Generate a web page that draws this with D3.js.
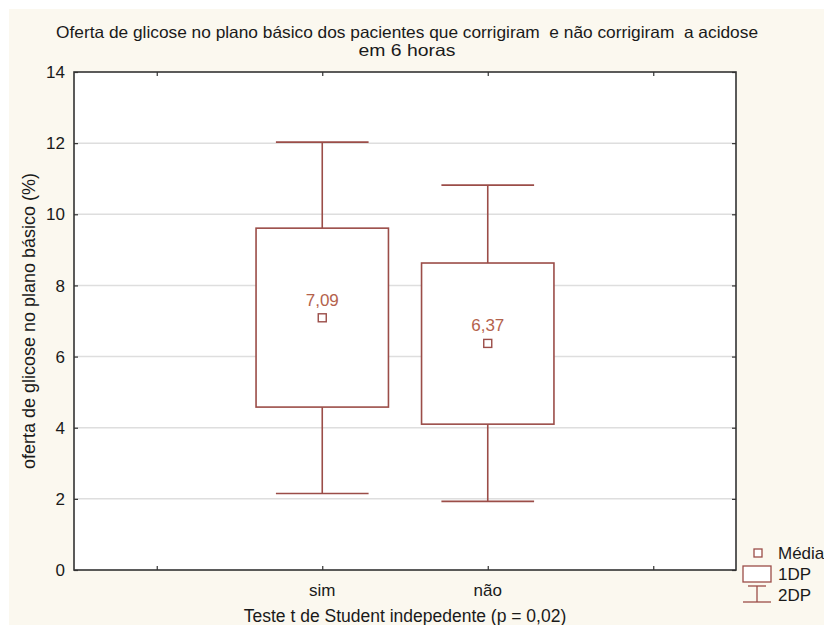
<!DOCTYPE html>
<html>
<head>
<meta charset="utf-8">
<script src="https://cdn.jsdelivr.net/npm/d3@7"></script>
<style>
  html, body { margin: 0; padding: 0; background: #ffffff; }
  svg text { font-family: "Liberation Sans", Arial, sans-serif; white-space: pre; }
</style>
</head>
<body>
<svg id="chart" width="824" height="625"></svg>
<script>
// ---- data ----
const categories = ["sim", "não"];
const axisSlots = ["", "sim", "não", " "];
const means = [7.09, 6.37];
const meanLabels = ["7,09", "6,37"];
const sd1Low = [4.58, 4.10];
const sd1High = [9.61, 8.63];
const sd2Low = [2.15, 1.93];
const sd2High = [12.03, 10.82];
const yTicks = [0, 2, 4, 6, 8, 10, 12, 14];
const titleLines = [
  "Oferta de glicose no plano básico dos pacientes que corrigiram  e não corrigiram  a acidose",
  "em 6 horas"
];
const xTitle = "Teste t de Student indepedente (p = 0,02)";
const yTitle = "oferta de glicose no plano básico (%)";
const legendLabels = ["Média", "1DP", "2DP"];

// ---- layout ----
const W = 824, H = 625;
const plot = { left: 74, right: 736, top: 72, bottom: 570 };
const boxColor = "#9b4d48";
const labelColor = "#b4624c";
const frameColor = "#333333";
const textColor = "#1a1a1a";

const svg = d3.select("#chart");
svg.append("rect").attr("x", 0).attr("y", 0).attr("width", W).attr("height", H).attr("fill", "#ffffff");
svg.append("rect").attr("x", 9).attr("y", 9).attr("width", W - 9).attr("height", H - 9).attr("fill", "#fbf8ef");

const x = d3.scalePoint().domain(axisSlots).range([plot.left, plot.right]).padding(0.5);
const y = d3.scaleLinear().domain([0, 14]).range([plot.bottom, plot.top]);
const step = x.step();

// plot background
svg.append("rect")
  .attr("x", plot.left).attr("y", plot.top)
  .attr("width", plot.right - plot.left).attr("height", plot.bottom - plot.top)
  .attr("fill", "#ffffff");

// gridlines
svg.append("g").selectAll("line")
  .data(yTicks.filter(d => d > 0 && d < 14))
  .join("line")
  .attr("x1", plot.left).attr("x2", plot.right)
  .attr("y1", d => y(d)).attr("y2", d => y(d))
  .attr("stroke", "#dedede").attr("stroke-width", 1.5);

// axes (ticks inward)
const tickLen = 4;
const yLeft = svg.append("g").attr("transform", `translate(${plot.left},0)`)
  .call(d3.axisRight(y).tickValues(yTicks).tickSize(tickLen).tickFormat(""));
const yRight = svg.append("g").attr("transform", `translate(${plot.right},0)`)
  .call(d3.axisLeft(y).tickValues(yTicks).tickSize(tickLen).tickFormat(""));
const xBottom = svg.append("g").attr("transform", `translate(0,${plot.bottom})`)
  .call(d3.axisTop(x).tickSize(tickLen).tickFormat(""));
const xTop = svg.append("g").attr("transform", `translate(0,${plot.top})`)
  .call(d3.axisBottom(x).tickSize(tickLen).tickFormat(""));
[yLeft, yRight, xBottom, xTop].forEach(g => {
  g.select(".domain").remove();
  g.selectAll(".tick line").attr("stroke", frameColor).attr("stroke-width", 1.2);
});

// frame
svg.append("rect")
  .attr("x", plot.left).attr("y", plot.top)
  .attr("width", plot.right - plot.left).attr("height", plot.bottom - plot.top)
  .attr("fill", "none").attr("stroke", frameColor).attr("stroke-width", 1.6);

// y tick labels
svg.append("g").selectAll("text")
  .data(yTicks).join("text")
  .attr("x", plot.left - 9).attr("y", d => y(d))
  .attr("dy", "0.36em")
  .attr("text-anchor", "end")
  .attr("font-size", 17).attr("fill", textColor)
  .text(d => d);

// x tick labels
svg.append("g").selectAll("text")
  .data(axisSlots).join("text")
  .attr("x", d => x(d)).attr("y", 596)
  .attr("text-anchor", "middle")
  .attr("font-size", 17).attr("fill", textColor)
  .text(d => d.trim());

// boxes
const boxHalf = step * 0.4;
const capHalf = step * 0.28;
const g = svg.append("g").attr("stroke", boxColor).attr("stroke-width", 1.6);
categories.forEach((c, i) => {
  const cx = x(c);
  g.append("line").attr("x1", cx).attr("x2", cx).attr("y1", y(sd2High[i])).attr("y2", y(sd1High[i]));
  g.append("line").attr("x1", cx).attr("x2", cx).attr("y1", y(sd1Low[i])).attr("y2", y(sd2Low[i]));
  g.append("line").attr("x1", cx - capHalf).attr("x2", cx + capHalf).attr("y1", y(sd2High[i])).attr("y2", y(sd2High[i]));
  g.append("line").attr("x1", cx - capHalf).attr("x2", cx + capHalf).attr("y1", y(sd2Low[i])).attr("y2", y(sd2Low[i]));
  g.append("rect")
    .attr("x", cx - boxHalf).attr("y", y(sd1High[i]))
    .attr("width", boxHalf * 2).attr("height", y(sd1Low[i]) - y(sd1High[i]))
    .attr("fill", "#ffffff");
  g.append("rect")
    .attr("x", cx - 4).attr("y", y(means[i]) - 4)
    .attr("width", 8).attr("height", 8)
    .attr("fill", "#ffffff").attr("stroke-width", 1.4);
  svg.append("text")
    .attr("x", cx).attr("y", y(means[i]) - 12)
    .attr("text-anchor", "middle")
    .attr("font-size", 17).attr("fill", labelColor)
    .text(meanLabels[i]);
});

// title
const titleWidths = [702, 97];
svg.append("g").selectAll("text")
  .data(titleLines).join("text")
  .attr("x", 407).attr("y", (d, i) => 38 + i * 18)
  .attr("text-anchor", "middle")
  .attr("font-size", 16.5).attr("fill", textColor)
  .attr("textLength", (d, i) => titleWidths[i])
  .attr("lengthAdjust", "spacingAndGlyphs")
  .text(d => d);

// axis titles
svg.append("text")
  .attr("x", 405).attr("y", 622)
  .attr("text-anchor", "middle")
  .attr("font-size", 17.5).attr("fill", textColor)
  .text(xTitle);
svg.append("text")
  .attr("transform", `translate(35,${(plot.top + plot.bottom) / 2}) rotate(-90)`)
  .attr("text-anchor", "middle")
  .attr("font-size", 18).attr("fill", textColor)
  .text(yTitle);

// legend
const lg = svg.append("g");
lg.append("rect").attr("x", 754).attr("y", 549).attr("width", 8).attr("height", 8)
  .attr("fill", "#ffffff").attr("stroke", boxColor).attr("stroke-width", 1.3);
lg.append("rect").attr("x", 743).attr("y", 566).attr("width", 28).attr("height", 16)
  .attr("fill", "#ffffff").attr("stroke", boxColor).attr("stroke-width", 1.3);
lg.append("line").attr("x1", 748).attr("x2", 766).attr("y1", 586).attr("y2", 586).attr("stroke", boxColor).attr("stroke-width", 1.3);
lg.append("line").attr("x1", 757).attr("x2", 757).attr("y1", 586).attr("y2", 602).attr("stroke", boxColor).attr("stroke-width", 1.3);
lg.append("line").attr("x1", 743).attr("x2", 771).attr("y1", 602).attr("y2", 602).attr("stroke", boxColor).attr("stroke-width", 1.3);
lg.selectAll("text.lbl").data(legendLabels).join("text")
  .attr("class", "lbl")
  .attr("x", 778).attr("y", (d, i) => 559 + i * 21)
  .attr("font-size", 17).attr("fill", textColor)
  .text(d => d);
</script>
</body>
</html>
